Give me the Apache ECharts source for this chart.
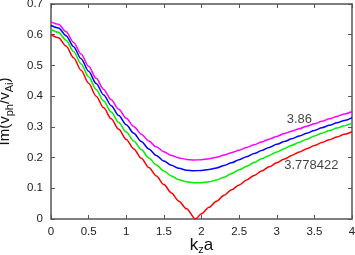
<!DOCTYPE html>
<html><head><meta charset="utf-8">
<script src="https://cdn.jsdelivr.net/npm/echarts@6/dist/echarts.min.js"></script>
<style>html,body{margin:0;padding:0;background:#fff}#c{width:355px;height:255px}</style>
</head><body><div id="c"></div>
<script>
const kzaLeft = [0,0.1,0.2,0.3,0.4,0.5,0.6,0.7,0.8,0.9,1.0,1.1,1.2,1.3,1.4,1.5,1.6,1.7,1.8,1.9,2.0,2.1,2.2,2.3,2.4,2.5,2.6,2.7,2.8,2.9,3.0,3.1,3.2,3.3,3.4,3.5,3.6,3.7,3.8,3.9,4.0];
const kzaRed = [0,0.1,0.2,0.3,0.4,0.5,0.6,0.7,0.8,0.9,1.0,1.1,1.2,1.3,1.4,1.5,1.6,1.7,1.8,1.92,2.0,2.1,2.2,2.3,2.4,2.5,2.6,2.7,2.8,2.9,3.0,3.1,3.2,3.3,3.4,3.5,3.6,3.7,3.8,3.9,4.0];
const redVals = [0.600,0.590,0.563,0.525,0.484,0.442,0.400,0.362,0.326,0.292,0.259,0.228,0.198,0.168,0.140,0.112,0.085,0.058,0.033,0.000,0.017,0.038,0.058,0.077,0.095,0.111,0.127,0.142,0.156,0.170,0.183,0.195,0.207,0.218,0.229,0.239,0.249,0.258,0.267,0.276,0.284];
const greenVals = [0.617,0.608,0.582,0.545,0.505,0.463,0.422,0.384,0.348,0.314,0.283,0.254,0.226,0.199,0.176,0.156,0.140,0.128,0.121,0.118,0.118,0.121,0.127,0.136,0.148,0.160,0.172,0.184,0.196,0.207,0.218,0.229,0.240,0.250,0.260,0.270,0.279,0.288,0.296,0.304,0.312];
const blueVals = [0.630,0.622,0.597,0.561,0.522,0.481,0.441,0.404,0.369,0.337,0.307,0.279,0.252,0.228,0.207,0.189,0.175,0.165,0.159,0.157,0.158,0.161,0.166,0.174,0.183,0.193,0.203,0.213,0.223,0.233,0.243,0.252,0.261,0.270,0.279,0.288,0.297,0.305,0.313,0.321,0.330];
const magentaVals = [0.642,0.634,0.610,0.575,0.537,0.497,0.458,0.422,0.388,0.357,0.328,0.301,0.276,0.254,0.235,0.219,0.207,0.199,0.194,0.192,0.193,0.196,0.201,0.208,0.216,0.224,0.233,0.242,0.251,0.260,0.269,0.278,0.286,0.294,0.302,0.310,0.318,0.326,0.334,0.342,0.350];
const xTicks = ['0','0.5','1','1.5','2','2.5','3','3.5','4'];
const yTicks = ['0','0.1','0.2','0.3','0.4','0.5','0.6','0.7'];
const annotations = [
  {text:'3.86', x:3.30, y:0.324},
  {text:'3.778422', x:3.46, y:0.173}
];

const pair = (xs, ys) => xs.map((x,i)=>[x, ys[i]]);
const axisColor = '#555';
const font = 'Liberation Sans, Arial, sans-serif';
function line(name, xs, ys, color) {
  return {name, type:'line', data:pair(xs,ys), showSymbol:false, smooth:0.3, smoothMonotone:'x',
    lineStyle:{color, width:1.5}, itemStyle:{color}, animation:false, z:3};
}
const chart = echarts.init(document.getElementById('c'), null, {renderer:'canvas'});
const series = [
  line('3.778422', kzaRed, redVals, '#ff0000'),
  line('g', kzaLeft, greenVals, '#00ee00'),
  line('b', kzaLeft, blueVals, '#0000ff'),
  line('3.86', kzaLeft, magentaVals, '#ff00ff')
];
series.push({type:'scatter', data:annotations.map(a=>[a.x,a.y,a.text]), symbolSize:0,
  label:{show:true, position:'inside', formatter:p=>p.data[2], color:'#111', fontSize:13, fontFamily:font},
  silent:true, animation:false, z:5});
const tickCommon = {show:true, inside:true, length:4, lineStyle:{color:axisColor, width:1}};
chart.setOption({
  animation:false,
  grid:{left:51, right:3, top:4, bottom:36, containLabel:false, outerBoundsMode:'none'},
  xAxis:[
    {type:'value', min:0, max:4, interval:0.5, position:'bottom',
     axisLine:{show:true, onZero:false, lineStyle:{color:axisColor, width:1.5}},
     axisTick:tickCommon, splitLine:{show:false},
     axisLabel:{color:'#222', fontSize:11.5, fontFamily:font, margin:7,
       formatter:(v)=>xTicks[Math.round(v/0.5)]},
     name:'{m|k}{s|z}{m|a}', nameLocation:'middle', nameGap:16, nameMoveOverlap:false,
     nameTextStyle:{rich:{m:{fontSize:17, fontFamily:font, color:'#111'}, s:{fontSize:11, fontFamily:font, color:'#111', padding:[9,0,0,0]}}}},
    {type:'value', min:0, max:4, interval:0.5, position:'top',
     axisLine:{show:true, onZero:false, lineStyle:{color:axisColor, width:1.5}},
     axisTick:tickCommon, axisLabel:{show:false}, splitLine:{show:false}}
  ],
  yAxis:[
    {type:'value', min:0, max:0.7, interval:0.1, position:'left',
     axisLine:{show:true, onZero:false, lineStyle:{color:axisColor, width:1.5}},
     axisTick:tickCommon, splitLine:{show:false},
     axisLabel:{color:'#222', fontSize:11.5, fontFamily:font, margin:8,
       formatter:(v)=>yTicks[Math.round(v*10)]},
     name:'{m|Im(v}{s|ph}{m|/v}{s|Ai}{m|)}', nameLocation:'middle', nameGap:36, nameRotate:90, nameMoveOverlap:false,
     nameTextStyle:{rich:{m:{fontSize:15, fontFamily:font, color:'#111'}, s:{fontSize:11, fontFamily:font, color:'#111', padding:[10,0,0,0]}}}},
    {type:'value', min:0, max:0.7, interval:0.1, position:'right',
     axisLine:{show:true, onZero:false, lineStyle:{color:axisColor, width:1.5}},
     axisTick:tickCommon, axisLabel:{show:false}, splitLine:{show:false}}
  ],
  series
});
</script></body></html>
